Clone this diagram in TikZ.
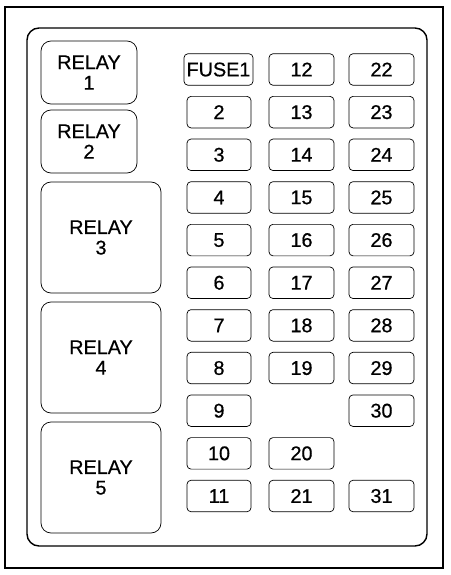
\documentclass[tikz,border=0pt]{standalone}
\usepackage{fontspec}
\setmainfont[FakeBold=0.6,AutoFakeBold=0.6]{Liberation Sans}
\usetikzlibrary{positioning}

\begin{document}
\begin{tikzpicture}[x=1pt,y=-1pt]
		\tikzstyle{relay}=[draw,line width=0.7pt,rounded corners=10pt,align=center,inner sep=0pt,font=\fontsize{19.8}{20.5}\selectfont\bfseries]
		\tikzstyle{fuse}=[draw,line width=0.7pt,rounded corners=4pt,inner sep=0pt,minimum width=65pt,minimum height=31.5pt,font=\fontsize{19.8}{20.5}\selectfont\bfseries]
		\def\rowstep{42.65}
		\def\rowtop{69.5}

		%frame
		\useasboundingbox (0,0) rectangle (450,575);
		\draw[line width=2pt] (5,7) rectangle (443,568);
		\draw[line width=1.4pt,rounded corners=12pt] (27,28) rectangle (427,546);

		%relays
		\node[relay,minimum width=96pt,minimum height=63pt] (relay1) at (89,72.5) {RELAY\\1};
		\node[relay,minimum width=96pt,minimum height=63pt] (relay2) at (89,141.5) {RELAY\\2};
		\node[relay,minimum width=120pt,minimum height=111pt] (relay3) at (101,237.5) {RELAY\\3};
		\node[relay,minimum width=120pt,minimum height=111pt] (relay4) at (101,357.5) {RELAY\\4};
		\node[relay,minimum width=120pt,minimum height=111pt] (relay5) at (101,477.5) {RELAY\\5};

		%fuses, first column
		\node[fuse,minimum width=69pt] (fuse1) at (218.5,\rowtop) {FUSE1};
		\foreach \n in {2,...,11}
			\node[fuse,minimum width=64pt] (fuse\n) at (219,\rowtop+\n*\rowstep-\rowstep) {\n};

		%second column
		\foreach \n in {12,...,19}
			\node[fuse] (fuse\n) at (301.5,\rowtop+\n*\rowstep-12*\rowstep) {\n};
		\node[fuse] (fuse20) at (301.5,\rowtop+9*\rowstep) {20};
		\node[fuse] (fuse21) at (301.5,\rowtop+10*\rowstep) {21};

		%third column
		\foreach \n in {22,...,29}
			\node[fuse] (fuse\n) at (381.5,\rowtop+\n*\rowstep-22*\rowstep) {\n};
		\node[fuse] (fuse30) at (381.5,\rowtop+8*\rowstep) {30};
		\node[fuse] (fuse31) at (381.5,\rowtop+10*\rowstep) {31};
	\end{tikzpicture}
\end{document}
